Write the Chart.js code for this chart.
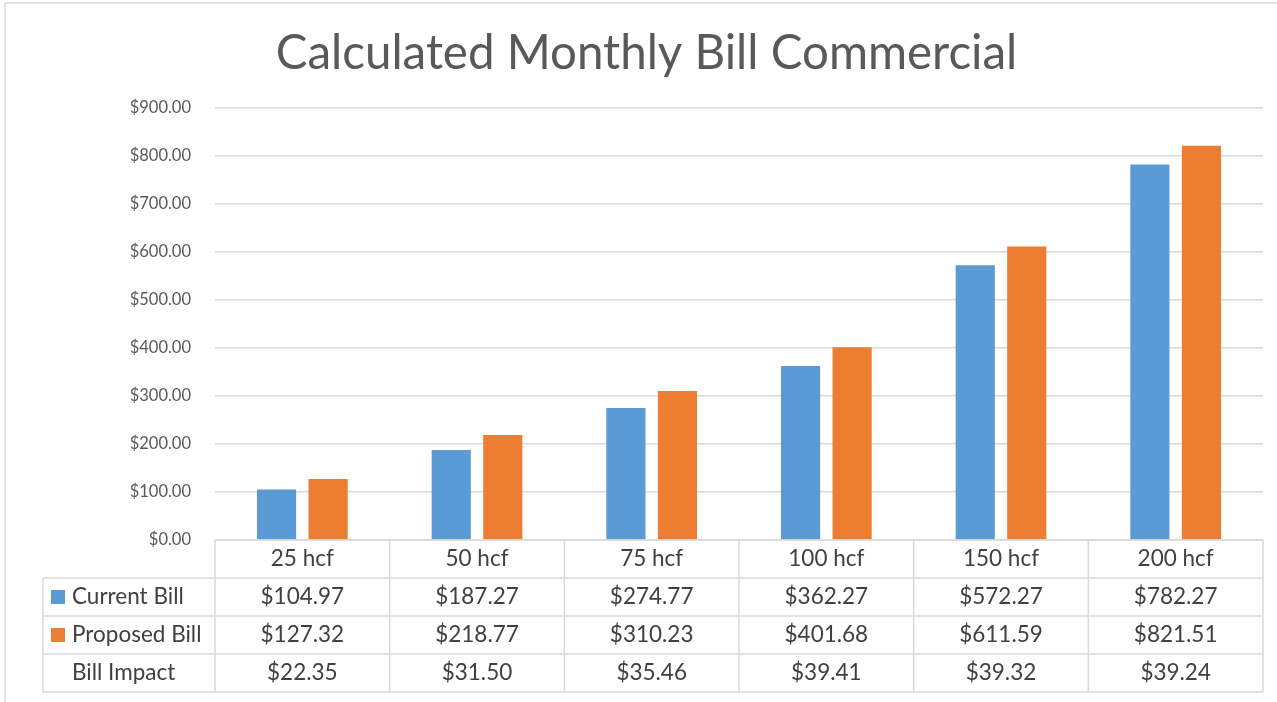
<!DOCTYPE html>
<html lang="en">
<head>
    <meta charset="UTF-8">
    <title>Calculated Monthly Bill Commercial</title>
    <script src="https://cdn.jsdelivr.net/npm/chart.js"></script>
    <style>
        html, body { margin: 0; padding: 0; background: #ffffff; }
        #wrap { width: 1277px; height: 702px; }
    </style>
</head>
<body>
    <div id="wrap"><canvas id="grafico" width="1277" height="702"></canvas></div>

    <script>
        // dados
        const categorias = ['25 hcf', '50 hcf', '75 hcf', '100 hcf', '150 hcf', '200 hcf'];
        const contaAtual = [104.97, 187.27, 274.77, 362.27, 572.27, 782.27];
        const contaProposta = [127.32, 218.77, 310.23, 401.68, 611.59, 821.51];
        const impacto = [22.35, 31.50, 35.46, 39.41, 39.32, 39.24];
        const ticksY = [0, 100, 200, 300, 400, 500, 600, 700, 800, 900];

        const FONTE = 'Lato';
        const AZUL = '#5B9BD5';
        const LARANJA = '#ED7D31';
        const GRADE = '#d9d9d9';

        const dinheiro = v => '$' + v.toFixed(2);

        // desenha a tabela de dados abaixo do gráfico (estilo Excel)
        const tabelaPlugin = {
            id: 'tabelaDados',
            beforeDraw(chart) {
                const ctx = chart.ctx;
                ctx.save();
                ctx.fillStyle = '#ffffff';
                ctx.fillRect(0, 0, chart.width, chart.height);
                // moldura do gráfico
                ctx.strokeStyle = GRADE;
                ctx.lineWidth = 1.5;
                ctx.beginPath();
                ctx.moveTo(5, chart.height);
                ctx.lineTo(5, 3);
                ctx.lineTo(chart.width, 3);
                ctx.stroke();
                ctx.restore();
            },
            afterDraw(chart) {
                const ctx = chart.ctx;
                const area = chart.chartArea;
                const x = chart.scales.x;
                const esq = 43;
                const linhaH = 38;
                const topo = area.bottom;
                const bordas = [];
                for (let i = 0; i < categorias.length; i++) {
                    bordas.push(x.getPixelForValue(i) - x.width / categorias.length / 2);
                }
                bordas.push(area.right);
                const linhas = [topo, topo + linhaH, topo + 2 * linhaH, topo + 3 * linhaH, topo + 4 * linhaH];

                ctx.save();
                ctx.strokeStyle = GRADE;
                ctx.lineWidth = 1.5;
                ctx.beginPath();
                // linha do cabeçalho
                ctx.moveTo(area.left, linhas[0]);
                ctx.lineTo(area.right, linhas[0]);
                for (let r = 1; r < linhas.length; r++) {
                    ctx.moveTo(esq, linhas[r]);
                    ctx.lineTo(area.right, linhas[r]);
                }
                ctx.moveTo(esq, linhas[1]);
                ctx.lineTo(esq, linhas[4]);
                bordas.forEach(b => {
                    ctx.moveTo(b, linhas[0]);
                    ctx.lineTo(b, linhas[4]);
                });
                ctx.stroke();

                ctx.fillStyle = '#404040';
                ctx.font = '22.5px ' + FONTE;
                ctx.textAlign = 'center';
                ctx.textBaseline = 'middle';
                const series = [contaAtual, contaProposta, impacto];
                categorias.forEach((c, i) => {
                    const cx = x.getPixelForValue(i);
                    ctx.fillText(c, cx, linhas[0] + linhaH / 2);
                    series.forEach((s, r) => {
                        ctx.fillText(dinheiro(s[i]), cx, linhas[r + 1] + linhaH / 2);
                    });
                });

                // rótulos das linhas com as chaves da legenda
                ctx.textAlign = 'left';
                const nomes = ['Current Bill', 'Proposed Bill', 'Bill Impact'];
                const cores = [AZUL, LARANJA, null];
                nomes.forEach((n, r) => {
                    const cy = linhas[r + 1] + linhaH / 2;
                    if (cores[r]) {
                        ctx.fillStyle = cores[r];
                        ctx.fillRect(51, cy - 7, 14, 14);
                    }
                    ctx.fillStyle = '#404040';
                    ctx.fillText(n, 72, cy);
                });
                ctx.restore();
            }
        };

        const ctx = document.getElementById('grafico').getContext('2d');
        new Chart(ctx, {
            type: 'bar',
            data: {
                labels: categorias,
                datasets: [{
                    label: 'Current Bill',
                    data: contaAtual,
                    backgroundColor: AZUL
                }, {
                    label: 'Proposed Bill',
                    data: contaProposta,
                    backgroundColor: LARANJA
                }]
            },
            options: {
                responsive: false,
                animation: false,
                devicePixelRatio: 1,
                categoryPercentage: 0.59,
                barPercentage: 0.76,
                layout: {
                    autoPadding: false,
                    padding: { left: 30, right: 14, top: 0, bottom: 162 }
                },
                plugins: {
                    legend: { display: false },
                    tooltip: { enabled: false },
                    title: {
                        display: true,
                        text: 'Calculated Monthly Bill Commercial',
                        color: '#595959',
                        font: { family: FONTE, size: 47.5, weight: 'normal', lineHeight: 1.2 },
                        padding: { top: 25, bottom: 108 - 25 - 47.5 * 1.2 }
                    }
                },
                scales: {
                    x: {
                        display: false
                    },
                    y: {
                        min: 0,
                        max: ticksY[ticksY.length - 1],
                        afterFit(scale) { scale.width = 185; },
                        afterBuildTicks(scale) { scale.ticks = ticksY.map(v => ({ value: v })); },
                        border: { display: false },
                        grid: { color: GRADE, lineWidth: 1.5, drawTicks: false },
                        ticks: {
                            padding: 24,
                            color: '#595959',
                            font: { family: FONTE, size: 16.5 },
                            callback: v => dinheiro(v)
                        }
                    }
                }
            },
            plugins: [tabelaPlugin]
        });
    </script>
</body>
</html>
